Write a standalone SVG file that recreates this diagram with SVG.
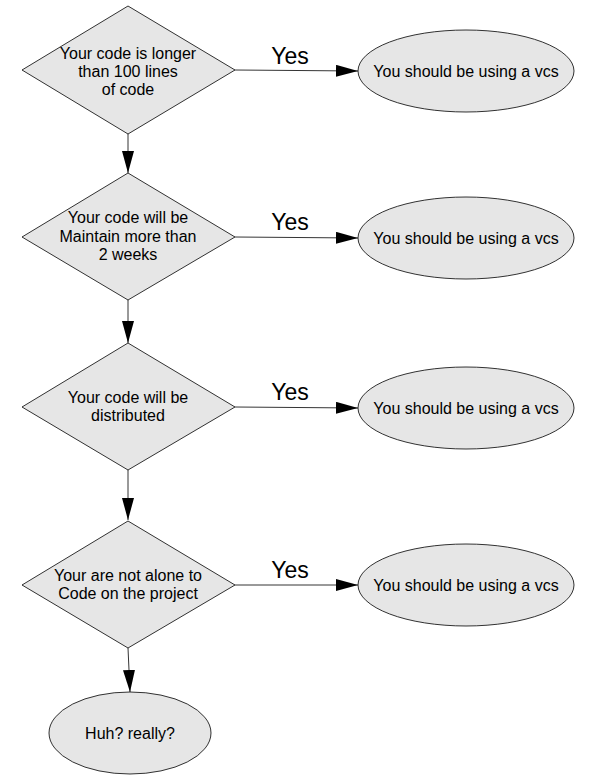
<svg xmlns="http://www.w3.org/2000/svg" width="598" height="784" viewBox="0 0 598 784">
<style>
.shape{fill:#e6e6e6;stroke:#000;stroke-width:0.8}
.t{font-family:"Liberation Sans",Arial,sans-serif;font-size:16px;fill:#000;text-anchor:middle}
.yes{font-family:"Liberation Sans",Arial,sans-serif;font-size:23px;fill:#000;text-anchor:middle}
.c{stroke:#000;stroke-width:0.8;fill:none;marker-end:url(#ah)}
</style>
<defs>
<marker id="ah" markerWidth="22" markerHeight="12" refX="22" refY="6" orient="auto" markerUnits="userSpaceOnUse">
<path d="M0,0 L22,6 L0,12 Z" fill="#000"/>
</marker>
</defs>
<rect width="598" height="784" fill="#fff"/>
<g id="connectors">
<line class="c" x1="235" y1="70" x2="358" y2="71"/>
<line class="c" x1="235" y1="237" x2="358" y2="238"/>
<line class="c" x1="235" y1="407" x2="358" y2="408"/>
<line class="c" x1="235" y1="585" x2="358" y2="585"/>
<line class="c" x1="128" y1="134" x2="128" y2="173"/>
<line class="c" x1="128" y1="300" x2="128" y2="343"/>
<line class="c" x1="128" y1="470" x2="128" y2="520"/>
<line class="c" x1="128" y1="648" x2="130" y2="692"/>
<text class="yes" x="290" y="64">Yes</text>
<text class="yes" x="290" y="230">Yes</text>
<text class="yes" x="290" y="400">Yes</text>
<text class="yes" x="290" y="578">Yes</text>
</g>
<g id="d1">
<polygon class="shape" points="128,6 235,70 128,134 22,70"/>
<text class="t" x="128" y="59">Your code is longer</text>
<text class="t" x="128" y="77">than 100 lines</text>
<text class="t" x="128" y="95">of code</text>
</g>
<g id="d2">
<polygon class="shape" points="128,173 235,237 128,300 22,237"/>
<text class="t" x="128" y="223">Your code will be</text>
<text class="t" x="128" y="242">Maintain more than</text>
<text class="t" x="128" y="260">2 weeks</text>
</g>
<g id="d3">
<polygon class="shape" points="128,343 235,407 128,470 22,407"/>
<text class="t" x="128" y="403">Your code will be</text>
<text class="t" x="128" y="421">distributed</text>
</g>
<g id="d4">
<polygon class="shape" points="128,521 235,585 128,648 22,585"/>
<text class="t" x="128" y="581">Your are not alone to</text>
<text class="t" x="128" y="599">Code on the project</text>
</g>
<g id="e1">
<ellipse class="shape" cx="466" cy="71" rx="108" ry="41"/>
<text class="t" x="466" y="77">You should be using a vcs</text>
</g>
<g id="e2">
<ellipse class="shape" cx="466" cy="238" rx="108" ry="41"/>
<text class="t" x="466" y="244">You should be using a vcs</text>
</g>
<g id="e3">
<ellipse class="shape" cx="466" cy="408" rx="108" ry="41"/>
<text class="t" x="466" y="414">You should be using a vcs</text>
</g>
<g id="e4">
<ellipse class="shape" cx="466" cy="585" rx="108" ry="41"/>
<text class="t" x="466" y="591">You should be using a vcs</text>
</g>
<g id="e5">
<ellipse class="shape" cx="130" cy="733" rx="81" ry="41"/>
<text class="t" x="130" y="739">Huh? really?</text>
</g>
</svg>
